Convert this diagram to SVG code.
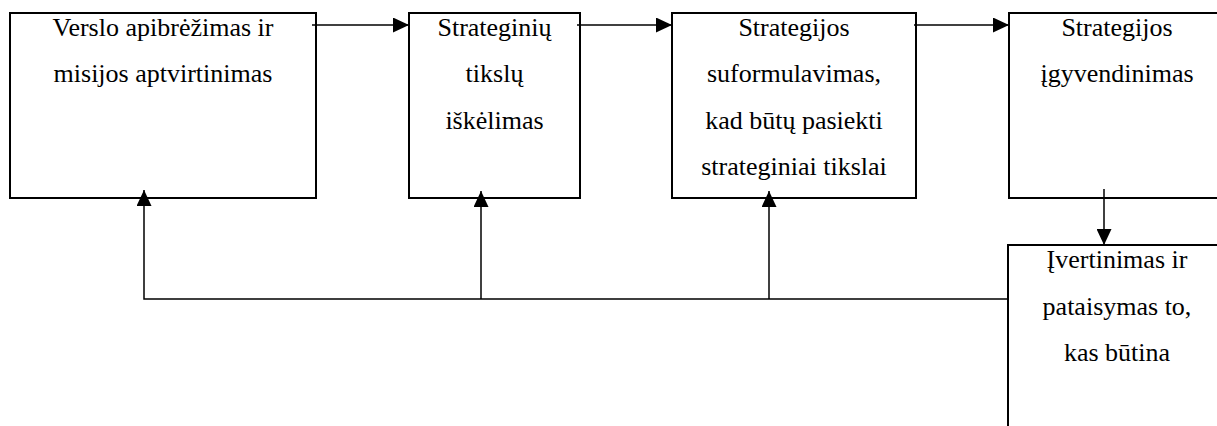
<svg xmlns="http://www.w3.org/2000/svg" width="1217" height="426" viewBox="0 0 1217 426">
<style>
.box{fill:#fff;stroke:#000;stroke-width:2}
.lbl{font-family:"Liberation Serif","Times New Roman",serif;font-size:26px;fill:#000;text-anchor:middle}
.con{fill:none;stroke:#000;stroke-width:1.5}
</style>
<defs>
<marker id="ah" markerUnits="userSpaceOnUse" markerWidth="16" markerHeight="15" refX="16" refY="7.5" orient="auto">
<path d="M0,0 L16,7.5 L0,15 z" fill="#000"/>
</marker>
</defs>
<rect width="1217" height="426" fill="#fff"/>
<g id="n1">
<rect class="box" x="10" y="13" width="306" height="185"/>
<text class="lbl" x="163" y="36">Verslo apibrėžimas ir</text>
<text class="lbl" x="163" y="82">misijos aptvirtinimas</text>
</g>
<g id="n2">
<rect class="box" x="409" y="13" width="171" height="185"/>
<text class="lbl" x="494.5" y="36">Strateginių</text>
<text class="lbl" x="494.5" y="82">tikslų</text>
<text class="lbl" x="494.5" y="129">iškėlimas</text>
</g>
<g id="n3">
<rect class="box" x="672" y="13" width="244" height="185"/>
<text class="lbl" x="794" y="36">Strategijos</text>
<text class="lbl" x="794" y="82">suformulavimas,</text>
<text class="lbl" x="794" y="129">kad būtų pasiekti</text>
<text class="lbl" x="794" y="175">strateginiai tikslai</text>
</g>
<g id="n4">
<rect class="box" x="1009" y="13" width="230" height="185"/>
<text class="lbl" x="1117" y="36">Strategijos</text>
<text class="lbl" x="1117" y="82">įgyvendinimas</text>
</g>
<g id="n5">
<rect class="box" x="1008" y="245" width="230" height="200"/>
<text class="lbl" x="1117" y="268">Įvertinimas ir</text>
<text class="lbl" x="1117" y="315">pataisymas to,</text>
<text class="lbl" x="1117" y="361">kas būtina</text>
</g>
<g id="connectors">
<line class="con" x1="312" y1="25" x2="409" y2="25" marker-end="url(#ah)"/>
<line class="con" x1="577" y1="25" x2="672" y2="25" marker-end="url(#ah)"/>
<line class="con" x1="914" y1="25" x2="1009" y2="25" marker-end="url(#ah)"/>
<line class="con" x1="1104" y1="189" x2="1104" y2="245" marker-end="url(#ah)"/>
<polyline class="con" points="1008,299 144,299 144,190" marker-end="url(#ah)"/>
<line class="con" x1="481" y1="299" x2="481" y2="191" marker-end="url(#ah)"/>
<line class="con" x1="769" y1="299" x2="769" y2="191" marker-end="url(#ah)"/>
</g>
</svg>
